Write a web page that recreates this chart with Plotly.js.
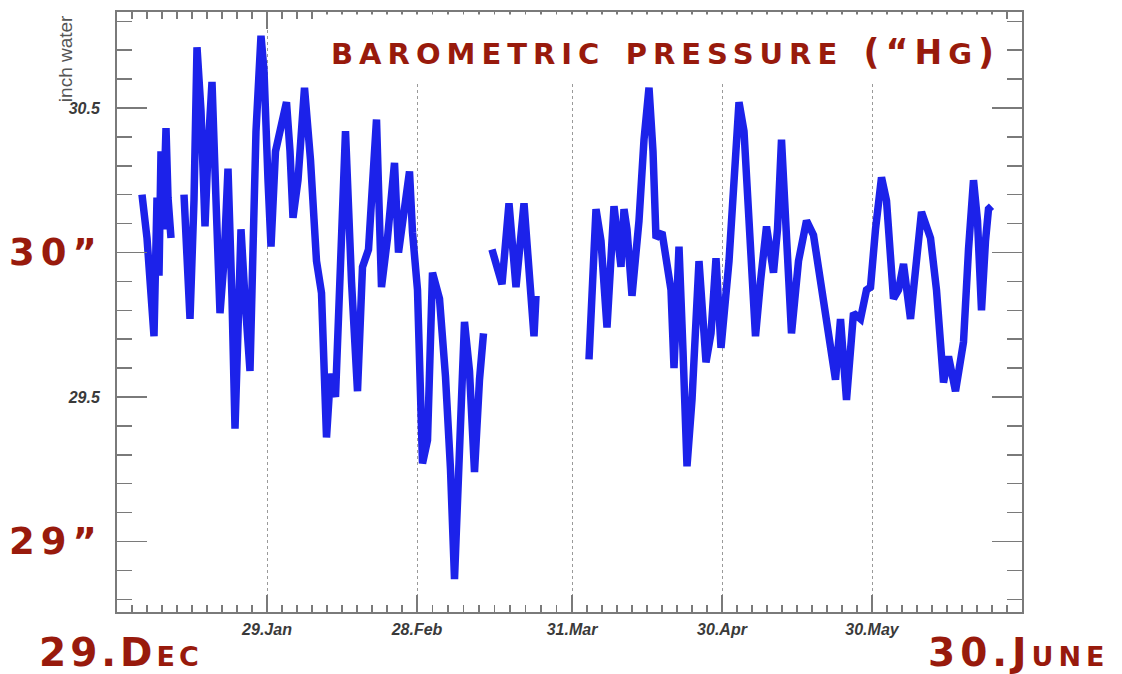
<!DOCTYPE html>
<html>
<head>
<meta charset="utf-8">
<script src="https://cdn.plot.ly/plotly-3.0.1.min.js"></script>
<style>
  html, body { margin: 0; padding: 0; background: #ffffff; }
  #chart { width: 1122px; height: 674px; }
</style>
</head>
<body>
<div id="chart"></div>
<script>
// Barometric pressure record, 30 Dec to 29 Jun.
// Days counted from 30 Dec 00:00; null marks a gap in the logger record.
const startDate = '2008-12-30';
const endDay = 181;

const dayOffset = [
  5.0, 6.0, 7.4, 8.0, 8.4, 8.8, 9.2, 9.8, 10.2, 10.8,
  null,
  13.4, 14.6, 15.4, 16.0, 16.8, 17.6, 18.2, 19.0, 19.8, 20.6, 21.4, 22.2, 23.0, 23.6, 24.2,
  24.8, 25.6, 26.6, 27.2, 27.8, 28.8, 29.4, 30.2, 30.8, 31.7, 32.9, 33.9, 34.6, 35.2, 36.2,
  37.5, 38.7, 39.9, 40.9, 41.9, 42.7, 43.7, 44.9, 45.7, 46.9, 48.1, 49.1, 50.3, 51.9, 52.9,
  54.1, 55.5, 56.3, 57.1, 58.5, 59.1, 60.1, 61.1, 62.1, 63.1, 64.5, 65.7, 66.7, 67.5, 68.5,
  69.5, 70.5, 71.5, 72.5, 73.3,
  null,
  75.0, 76.0, 77.0, 78.4, 79.8, 81.4, 82.4, 83.4, 83.8,
  null,
  94.4, 95.2, 95.8, 96.8, 98.0, 99.4, 100.8, 101.4, 102.0, 103.0, 104.4, 105.4, 106.4, 107.2,
  107.8, 109.0, 110.0, 110.8, 111.4, 112.4, 113.2, 114.0, 115.0, 116.4, 117.8, 118.8, 119.8,
  120.8, 122.4, 123.4, 124.4, 125.4, 126.4, 127.7, 128.7, 129.9, 131.3, 132.1, 132.9, 133.9,
  134.9, 136.3, 137.9, 139.3, 141.3, 142.7, 143.7, 144.7, 145.9, 147.3, 148.7, 149.9, 150.7,
  151.7, 152.9, 153.9, 155.3, 156.3, 157.3, 158.7, 159.9, 160.9, 162.7, 163.9, 165.3, 166.3,
  167.7, 169.3, 170.3, 171.3, 172.1, 172.9, 173.7, 174.3, 174.9
];

const pressure = [
  30.20, 30.05, 29.71, 30.19, 29.92, 30.35, 30.08, 30.43, 30.19, 30.05,
  null,
  30.20, 29.77, 30.18, 30.71, 30.49, 30.09, 30.35, 30.59, 30.18, 29.79, 29.97, 30.29, 29.84, 29.39, 29.73,
  30.08, 29.84, 29.59, 30.01, 30.42, 30.75, 30.63, 30.25, 30.02, 30.35, 30.44, 30.52, 30.35, 30.12, 30.25,
  30.57, 30.32, 29.97, 29.86, 29.36, 29.58, 29.50, 30.05, 30.42, 29.90, 29.52, 29.95, 30.01, 30.46, 29.88,
  30.05, 30.31, 30.00, 30.10, 30.28, 30.07, 29.87, 29.27, 29.35, 29.93, 29.84, 29.57, 29.25, 28.87, 29.39,
  29.76, 29.59, 29.24, 29.56, 29.72,
  null,
  30.01, 29.94, 29.89, 30.17, 29.88, 30.17, 29.97, 29.71, 29.85,
  null,
  29.63, 29.90, 30.15, 30.04, 29.74, 30.16, 29.95, 30.15, 30.08, 29.85, 30.11, 30.39, 30.57, 30.35,
  30.05, 30.07, 29.94, 29.87, 29.60, 30.02, 29.66, 29.26, 29.49, 29.97, 29.62, 29.72, 29.98,
  29.67, 29.97, 30.22, 30.52, 30.42, 30.08, 29.71, 29.90, 30.09, 29.93, 30.08, 30.39, 30.01,
  29.72, 29.97, 30.11, 30.06, 29.85, 29.70, 29.56, 29.77, 29.49, 29.79, 29.77, 29.87, 29.88,
  30.08, 30.26, 30.18, 29.84, 29.87, 29.96, 29.77, 30.01, 30.14, 30.05, 29.87, 29.55, 29.64,
  29.52, 29.69, 30.01, 30.25, 30.11, 29.80, 30.04, 30.15, 30.16
];

// Month tick marks along the time axis
const monthTickDays = [30, 60, 91, 121, 151];
const monthTickText = ['29.Jan', '28.Feb', '31.Mar', '30.Apr', '30.May'];

// Pressure axis ticks (inches of mercury); the whole inches carry large labels
const pressureTicks = [29, 29.5, 30, 30.5];
const pressureTickText = ['', '29.5', '', '30.5'];

const red = '#981a0c';
const axisGrey = '#7a7a7a';

function dayToDate(d) {
  if (d === null) return null;
  const base = Date.parse(startDate + 'T00:00:00Z');
  return new Date(base + d * 86400000).toISOString().slice(0, 19).replace('T', ' ');
}

// Minor ticks: ten divisions between consecutive month marks (including the axis ends)
const bounds = [0].concat(monthTickDays, [endDay]);
const minorDays = [];
for (let i = 0; i < bounds.length - 1; i++) {
  for (let k = 1; k < 10; k++) {
    minorDays.push(bounds[i] + (bounds[i + 1] - bounds[i]) * k / 10);
  }
}

const trace = {
  type: 'scatter',
  mode: 'lines',
  x: dayOffset.map(dayToDate),
  y: pressure,
  connectgaps: false,
  line: { color: '#1c22ea', width: 7.5, shape: 'linear' },
  hoverinfo: 'x+y'
};

const tickFont = { family: 'Liberation Sans, Arial, sans-serif', size: 16, color: '#3a3a3a', weight: 'bold', style: 'italic' };
// Red lettering: wide bold sans, lowercase drawn as small capitals
const capsFont = (size) => ({ family: 'DejaVu Sans', size: size, color: red, weight: 'bold', variant: 'small-caps' });
const spaced = (txt, px, size) =>
  '<span style="letter-spacing:' + px + 'px' + (size ? ';font-size:' + size + 'px' : '') + '">' + txt + '</span>';

const layout = {
  width: 1122,
  height: 674,
  margin: { l: 117, r: 100, t: 12, b: 62, pad: 0 },
  paper_bgcolor: '#ffffff',
  plot_bgcolor: '#ffffff',
  showlegend: false,
  xaxis: {
    type: 'date',
    range: [dayToDate(0), dayToDate(endDay)],
    tickmode: 'array',
    tickvals: monthTickDays.map(dayToDate),
    ticktext: monthTickText,
    ticks: 'inside',
    ticklen: 17,
    tickwidth: 1.5,
    tickcolor: axisGrey,
    showline: true,
    linecolor: axisGrey,
    linewidth: 2,
    mirror: 'ticks',
    showgrid: true,
    gridcolor: '#9a9a9a',
    griddash: 'dot',
    gridwidth: 1,
    zeroline: false,
    tickfont: tickFont,
    ticklabelstandoff: 2,
    minor: {
      tickmode: 'array',
      tickvals: minorDays.map(dayToDate),
      ticks: 'inside',
      ticklen: 7,
      tickwidth: 1.5,
      tickcolor: axisGrey,
      showgrid: false
    }
  },
  yaxis: {
    range: [28.756, 30.832],
    tickmode: 'array',
    tickvals: pressureTicks,
    ticktext: pressureTickText,
    ticks: 'inside',
    ticklen: 30,
    tickwidth: 1.5,
    tickcolor: axisGrey,
    showline: true,
    linecolor: axisGrey,
    linewidth: 2,
    mirror: 'ticks',
    showgrid: false,
    zeroline: false,
    tickfont: tickFont,
    ticklabelstandoff: 12,
    minor: {
      tick0: 29,
      dtick: 0.1,
      ticks: 'inside',
      ticklen: 15,
      tickwidth: 1.5,
      tickcolor: axisGrey,
      showgrid: false
    }
  },
  shapes: [
    // white panel behind the heading
    { type: 'rect', xref: 'paper', yref: 'paper', x0: 0.2276, x1: 0.979, y0: 0.8817, y1: 0.996,
      fillcolor: '#ffffff', line: { width: 0 }, layer: 'above' }
  ],
  annotations: [
    { text: spaced('barometric pressure ', 6) + spaced('(\u201C', 6, 35) + spaced('H', 6, 33) +
            spaced('g', 6) + spaced(')', 0, 35),
      xref: 'paper', yref: 'paper', x: 0.603, y: 0.937,
      xanchor: 'center', yanchor: 'middle', showarrow: false, font: capsFont(41) },
    { text: 'inch water', xref: 'paper', yref: 'paper', x: -0.0575, y: 0.923, textangle: -90,
      xanchor: 'center', yanchor: 'middle', showarrow: false,
      font: { family: 'Liberation Sans, Arial, sans-serif', size: 19, color: '#555555' } },
    { text: spaced('30\u201D', 6), xref: 'paper', yref: 'y', x: -0.067, y: 30, xanchor: 'center', yanchor: 'middle',
      showarrow: false, font: capsFont(37) },
    { text: spaced('29\u201D', 6), xref: 'paper', yref: 'y', x: -0.067, y: 29, xanchor: 'center', yanchor: 'middle',
      showarrow: false, font: capsFont(37) },
    { text: spaced('29.Dec', 4), xref: 'paper', yref: 'paper', x: 0.0044, y: -0.0683,
      xanchor: 'center', yanchor: 'middle', showarrow: false, font: capsFont(39) },
    { text: spaced('30.June', 5), xref: 'paper', yref: 'paper', x: 0.9967, y: -0.0683,
      xanchor: 'center', yanchor: 'middle', showarrow: false, font: capsFont(39) }
  ]
};

Plotly.newPlot('chart', [trace], layout, { displayModeBar: false, staticPlot: true });
</script>
</body>
</html>
